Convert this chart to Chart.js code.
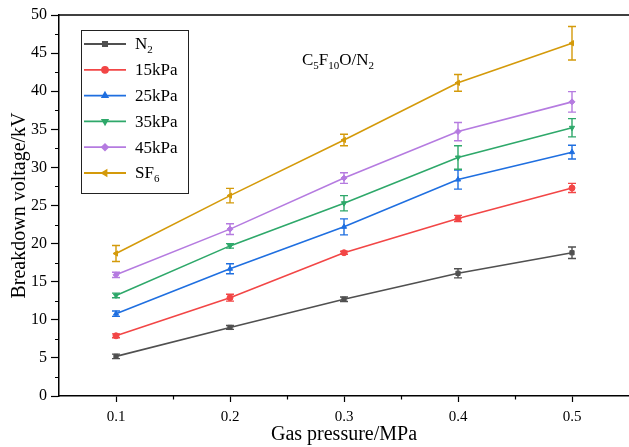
<!DOCTYPE html>
<html>
<head>
<meta charset="utf-8">
<script src="https://cdn.jsdelivr.net/npm/chart.js@4/dist/chart.umd.min.js"></script>
<style>
  html, body { margin: 0; padding: 0; background: #fff; }
  #wrap { width: 629px; height: 447px; }
</style>
</head>
<body>
<div id="wrap"><canvas id="bd-chart" width="629" height="447"></canvas></div>
<script>
const pressures = [0.1, 0.2, 0.3, 0.4, 0.5];

const n2 = [5.2, 9.0, 12.7, 16.1, 18.8];
const n2Err = [0.3, 0.25, 0.3, 0.6, 0.75];
const kpa15 = [7.9, 12.9, 18.8, 23.3, 27.3];
const kpa15Err = [0.25, 0.45, 0.2, 0.4, 0.6];
const kpa25 = [10.8, 16.7, 22.2, 28.4, 32.0];
const kpa25Err = [0.35, 0.65, 1.05, 1.25, 0.9];
const kpa35 = [13.2, 19.7, 25.3, 31.3, 35.2];
const kpa35Err = [0.3, 0.3, 1.0, 1.55, 1.2];
const kpa45 = [15.9, 21.9, 28.6, 34.7, 38.6];
const kpa45Err = [0.35, 0.7, 0.7, 1.2, 1.35];
const sf6 = [18.7, 26.3, 33.6, 41.1, 46.3];
const sf6Err = [1.05, 0.95, 0.75, 1.1, 2.2];

// "_x" or "_{xy}" marks a subscript
const seriesNames = ['N_2', '15kPa', '25kPa', '35kPa', '45kPa', 'SF_6'];
const mixtureLabel = 'C_5F_{10}O/N_2';

const xTicks = [0.1, 0.2, 0.3, 0.4, 0.5];
const xMinorTicks = [0.15, 0.25, 0.35, 0.45];
const yTicks = [0, 5, 10, 15, 20, 25, 30, 35, 40, 45, 50];
const yMinorTicks = [2.5, 7.5, 12.5, 17.5, 22.5, 27.5, 32.5, 37.5, 42.5, 47.5];

const SERIF = '"Liberation Serif", "Times New Roman", serif';
const colors = ['#505050', '#F24646', '#1F6FE0', '#2EA86A', '#B57BE0', '#D49A0A'];
const shapes = [
  { style: 'rect', rot: 0 },
  { style: 'circle', rot: 0 },
  { style: 'triangle', rot: 0 },
  { style: 'triangle', rot: 180 },
  { style: 'rectRot', rot: 0 },
  { style: 'triangle', rot: -90 },
];
const values = [n2, kpa15, kpa25, kpa35, kpa45, sf6];
const errors = [n2Err, kpa15Err, kpa25Err, kpa35Err, kpa45Err, sf6Err];

function parseSub(text) {
  const parts = [];
  const re = /_\{([^}]*)\}|_(.)|([^_]+)/g;
  let m;
  while ((m = re.exec(text))) {
    if (m[1] !== undefined) parts.push({ t: m[1], sub: true });
    else if (m[2] !== undefined) parts.push({ t: m[2], sub: true });
    else parts.push({ t: m[3], sub: false });
  }
  return parts;
}

function drawRich(ctx, text, x, y, size) {
  const subSize = Math.round(size * 0.65);
  ctx.textBaseline = 'middle';
  ctx.textAlign = 'left';
  parseSub(text).forEach(p => {
    ctx.font = (p.sub ? subSize : size) + 'px ' + SERIF;
    ctx.fillText(p.t, x, p.sub ? y + size * 0.28 : y);
    x += ctx.measureText(p.t).width;
  });
}

const datasets = values.map((vals, i) => ({
  label: seriesNames[i],
  data: pressures.map((p, j) => ({ x: p, y: vals[j] })),
  errs: errors[i],
  borderColor: colors[i],
  backgroundColor: colors[i],
  borderWidth: 1.6,
  pointStyle: shapes[i].style,
  pointRotation: shapes[i].rot,
  pointRadius: 3,
  pointBorderWidth: 1,
  tension: 0,
}));

const errorBars = {
  id: 'errorBars',
  afterDatasetsDraw(chart) {
    const { ctx, scales: { x, y } } = chart;
    ctx.save();
    chart.data.datasets.forEach((ds, i) => {
      ctx.strokeStyle = ds.borderColor;
      ctx.lineWidth = 1.4;
      ds.data.forEach((pt, j) => {
        const px = x.getPixelForValue(pt.x);
        const top = y.getPixelForValue(pt.y + ds.errs[j]);
        const bot = y.getPixelForValue(pt.y - ds.errs[j]);
        ctx.beginPath();
        ctx.moveTo(px, top); ctx.lineTo(px, bot);
        ctx.moveTo(px - 4, top); ctx.lineTo(px + 4, top);
        ctx.moveTo(px - 4, bot); ctx.lineTo(px + 4, bot);
        ctx.stroke();
      });
    });
    ctx.restore();
  }
};

const frameAndLegend = {
  id: 'frameAndLegend',
  afterDraw(chart) {
    const { ctx, chartArea: a, scales: { x, y } } = chart;
    ctx.save();
    ctx.strokeStyle = '#000';

    // top frame line
    ctx.lineWidth = 1.4;
    ctx.beginPath();
    ctx.moveTo(a.left, a.top); ctx.lineTo(a.right, a.top);
    ctx.stroke();

    // minor ticks
    ctx.lineWidth = 1.2;
    ctx.beginPath();
    xMinorTicks.forEach(v => {
      const px = Math.round(x.getPixelForValue(v)) + 0.5;
      ctx.moveTo(px, a.bottom); ctx.lineTo(px, a.bottom + 3.5);
    });
    yMinorTicks.forEach(v => {
      const py = Math.round(y.getPixelForValue(v)) + 0.5;
      ctx.moveTo(a.left, py); ctx.lineTo(a.left - 4, py);
    });
    ctx.stroke();

    // legend box
    const lx = 81, ly = 30, lw = 107, lh = 163;
    ctx.lineWidth = 1;
    ctx.strokeStyle = '#222';
    ctx.strokeRect(lx + 0.5, ly + 0.5, lw, lh);
    chart.data.datasets.forEach((ds, i) => {
      const rowY = 44 + i * 25.8;
      ctx.strokeStyle = ds.borderColor;
      ctx.lineWidth = 1.8;
      ctx.beginPath();
      ctx.moveTo(84, rowY); ctx.lineTo(126, rowY);
      ctx.stroke();
      ctx.fillStyle = ds.backgroundColor;
      Chart.helpers.drawPoint(ctx, {
        pointStyle: ds.pointStyle, rotation: ds.pointRotation,
        radius: 3, borderWidth: 1
      }, 105, rowY);
      ctx.fillStyle = '#000';
      drawRich(ctx, ds.label, 135, rowY + 1, 17);
    });

    // mixture annotation
    ctx.fillStyle = '#000';
    drawRich(ctx, mixtureLabel, 302, 61, 17);
    ctx.restore();
  }
};

new Chart(document.getElementById('bd-chart'), {
  type: 'line',
  data: { datasets },
  options: {
    responsive: false,
    animation: false,
    devicePixelRatio: 1,
    layout: { autoPadding: false, padding: { top: 15, right: 0, left: 0, bottom: 0 } },
    plugins: { legend: { display: false }, tooltip: { enabled: false } },
    scales: {
      x: {
        type: 'linear',
        min: 0.05,
        max: 0.55,
        afterBuildTicks: s => { s.ticks = xTicks.map(v => ({ value: v })); },
        afterFit: s => { s.height = 51; s.paddingLeft = 0; s.paddingRight = 0; },
        grid: { drawOnChartArea: false, tickLength: 6, tickColor: '#000', tickWidth: 1.2 },
        border: { color: '#000', width: 1.5 },
        ticks: {
          color: '#000', padding: 6,
          font: { family: SERIF, size: 15 },
          callback: v => v.toFixed(1),
        },
        title: {
          display: true, text: 'Gas pressure/MPa', color: '#000',
          font: { family: SERIF, size: 20 }, padding: { top: 0, bottom: 0 },
        },
      },
      y: {
        type: 'linear',
        min: 0,
        max: 50,
        afterBuildTicks: s => { s.ticks = yTicks.map(v => ({ value: v })); },
        afterFit: s => { s.width = 59; },
        grid: { drawOnChartArea: false, tickLength: 8, tickColor: '#000', tickWidth: 1.2 },
        border: { color: '#000', width: 1.5 },
        ticks: {
          color: '#000', padding: 4,
          font: { family: SERIF, size: 16 },
        },
        title: {
          display: true, text: 'Breakdown voltage/kV', color: '#000',
          font: { family: SERIF, size: 20 }, padding: { top: 8, bottom: 0 },
        },
      },
    },
  },
  plugins: [errorBars, frameAndLegend],
});
</script>
</body>
</html>
